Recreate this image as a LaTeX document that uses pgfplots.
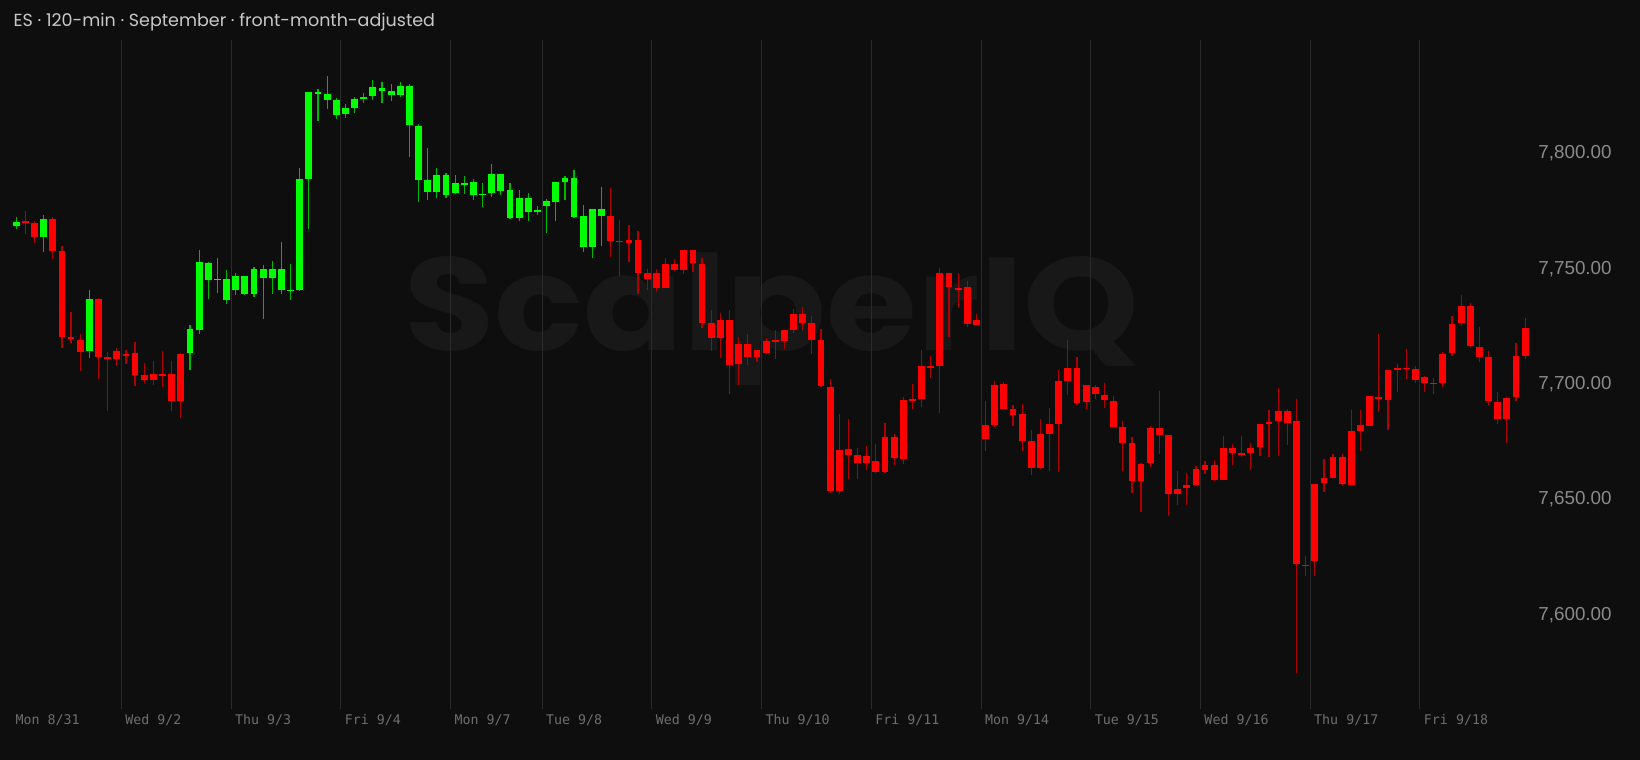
\documentclass[border=0pt]{standalone}
\usepackage{pgfplots}
\pgfplotsset{compat=1.18}
\usepackage{pgfplotstable}
\usepackage{graphicx}
\usepackage{fontspec}
\setmainfont{Liberation Sans}
\newfontfamily\titlefont{Poppins}
\newfontfamily\monofont{DejaVu Sans Mono}
\definecolor{bg}{HTML}{0E0E0E}
\definecolor{gridc}{HTML}{2A2A2A}
\definecolor{titlec}{HTML}{C8C8C8}
\definecolor{ylab}{HTML}{8A8A8A}
\definecolor{xlab}{HTML}{6E6E6E}
\definecolor{wm}{HTML}{181818}
\definecolor{gbody}{HTML}{00FF00}
\definecolor{gwick}{HTML}{00B800}
\definecolor{rbody}{HTML}{FF0000}
\definecolor{rwick}{HTML}{B00000}

% green candles: o = body bottom, c = body top
\pgfplotstableread{
i o h l c
0 7767.7 7771.6 7766.4 7769.7
3 7763.2 7772.6 7756.4 7770.7
8 7713.6 7740.1 7710.8 7736.2
19 7712.6 7724.9 7705.4 7723.0
20 7722.9 7757.4 7721.2 7752.1
21 7744.4 7752.3 7736.3 7751.8
22 7744.6 7753.9 7738.9 7744.9
23 7735.7 7748.7 7733.9 7744.7
24 7739.9 7747.4 7737.9 7746.0
25 7738.2 7746.3 7737.8 7746.0
26 7738.2 7749.9 7737.2 7749.2
27 7745.1 7750.9 7727.5 7749.2
28 7745.1 7752.6 7738.3 7749.2
29 7739.9 7760.8 7738.3 7749.0
30 7739.9 7751.5 7735.7 7740.1
31 7739.9 7792.8 7739.5 7788.3
32 7788.3 7826.0 7766.4 7825.9
33 7825.6 7827.3 7813.3 7825.8
34 7822.5 7832.8 7818.4 7825.0
35 7815.8 7823.3 7814.3 7822.5
36 7816.2 7820.7 7814.6 7819.1
37 7818.9 7823.8 7816.9 7822.8
38 7823.0 7825.6 7821.2 7823.8
39 7824.3 7830.9 7822.5 7827.9
40 7826.2 7830.3 7821.2 7827.6
41 7824.7 7829.3 7822.1 7826.3
42 7824.7 7830.2 7823.7 7828.3
43 7811.7 7829.2 7797.7 7828.3
44 7787.7 7811.9 7778.2 7811.3
45 7782.7 7801.6 7779.2 7787.6
46 7782.4 7793.1 7780.1 7790.0
47 7781.4 7790.6 7780.1 7790.0
48 7782.0 7790.0 7781.7 7786.3
49 7785.9 7789.6 7781.7 7786.3
50 7781.2 7788.2 7779.1 7786.7
51 7781.3 7786.4 7776.2 7781.7
52 7782.0 7794.8 7780.4 7790.2
53 7783.1 7790.2 7781.4 7790.2
54 7771.4 7786.4 7770.8 7783.4
55 7771.4 7783.5 7770.0 7779.8
56 7773.7 7782.0 7769.8 7779.8
57 7773.9 7776.5 7772.7 7774.9
58 7776.5 7779.4 7764.6 7778.5
59 7778.3 7786.7 7770.1 7786.7
60 7787.0 7789.5 7779.1 7788.8
61 7771.9 7792.1 7771.4 7788.8
62 7758.7 7776.8 7756.4 7772.1
63 7758.7 7775.3 7753.9 7775.3
64 7772.3 7784.7 7759.3 7775.3
}\greentab

% red candles: o = body top, c = body bottom
\pgfplotstableread{
i o h l c
1 7769.9 7774.3 7764.5 7769.5
2 7769.3 7770.0 7760.3 7763.2
4 7771.0 7771.7 7753.5 7757.0
5 7756.8 7759.1 7715.0 7719.7
6 7719.7 7730.7 7717.3 7718.7
7 7718.4 7721.0 7705.1 7713.4
9 7736.2 7736.8 7701.4 7711.2
10 7711.2 7713.2 7687.8 7710.3
11 7713.6 7715.0 7707.3 7710.3
12 7712.5 7714.1 7707.9 7711.5
13 7712.6 7717.7 7698.6 7703.1
14 7703.1 7708.3 7699.8 7701.2
15 7703.5 7709.2 7699.1 7701.2
16 7703.5 7713.5 7698.1 7703.1
17 7703.7 7709.2 7687.8 7692.1
18 7712.5 7712.6 7684.8 7692.1
65 7772.3 7784.1 7754.5 7761.5
66 7761.3 7770.4 7746.3 7760.7
67 7761.6 7768.1 7752.1 7760.6
68 7761.6 7765.8 7738.5 7747.6
69 7747.3 7749.3 7740.1 7744.7
70 7747.3 7749.0 7739.2 7741.1
71 7751.5 7754.1 7741.0 7741.1
72 7751.5 7753.5 7748.5 7748.9
73 7757.3 7757.3 7746.9 7748.9
74 7757.3 7757.3 7747.9 7751.6
75 7751.5 7753.9 7723.5 7725.6
76 7725.6 7731.3 7713.6 7719.1
77 7727.1 7730.0 7710.6 7719.1
78 7726.9 7731.3 7695.2 7707.6
79 7716.5 7719.6 7699.1 7707.9
80 7716.5 7720.9 7707.6 7711.0
81 7714.2 7714.2 7708.9 7710.9
82 7718.1 7719.1 7712.2 7712.8
83 7718.3 7722.6 7710.3 7717.7
84 7722.6 7722.6 7714.5 7717.8
85 7729.7 7732.0 7721.3 7722.9
86 7729.7 7732.6 7722.6 7725.6
87 7725.6 7728.8 7712.5 7718.4
88 7718.3 7723.2 7698.0 7698.4
89 7698.2 7701.4 7652.3 7653.1
90 7670.9 7686.4 7651.8 7653.1
91 7671.1 7684.1 7658.0 7668.6
92 7668.6 7671.5 7658.0 7665.3
93 7668.2 7672.6 7662.1 7665.3
94 7665.8 7673.4 7660.9 7661.4
95 7676.2 7682.4 7660.6 7661.4
96 7676.2 7677.5 7664.1 7667.4
97 7692.3 7693.6 7664.8 7667.0
98 7692.8 7699.3 7688.6 7692.3
99 7707.1 7714.1 7689.5 7693.0
100 7707.1 7711.5 7701.8 7706.4
101 7747.3 7749.8 7686.9 7707.1
102 7747.3 7747.3 7719.6 7741.4
103 7740.8 7747.3 7732.1 7740.4
104 7741.2 7743.8 7723.9 7725.5
105 7727.1 7729.7 7725.0 7725.1
106 7681.6 7691.9 7670.5 7675.7
107 7698.9 7700.6 7680.9 7681.6
108 7699.2 7700.2 7688.4 7688.5
109 7688.5 7690.4 7681.3 7686.1
110 7686.2 7690.5 7670.2 7674.6
111 7674.6 7679.4 7660.1 7663.1
112 7677.5 7684.0 7662.4 7663.1
113 7682.0 7688.8 7661.8 7677.7
114 7700.6 7705.4 7661.1 7682.2
115 7706.3 7718.4 7694.6 7700.6
116 7706.3 7710.9 7690.1 7691.3
117 7698.8 7698.8 7688.4 7691.7
118 7698.0 7698.8 7692.9 7694.9
119 7694.8 7699.6 7688.8 7692.4
120 7692.0 7694.0 7680.6 7680.9
121 7680.6 7683.3 7661.8 7673.7
122 7673.7 7676.4 7652.3 7657.3
123 7664.7 7665.3 7643.8 7657.5
124 7680.4 7681.2 7663.2 7665.1
125 7680.4 7696.3 7669.0 7677.1
126 7677.3 7677.3 7642.3 7651.8
127 7653.9 7661.5 7646.9 7651.8
128 7655.6 7660.6 7646.9 7654.4
129 7662.4 7663.8 7655.3 7655.6
130 7664.3 7666.0 7660.4 7662.3
131 7664.3 7666.4 7657.3 7657.9
132 7671.5 7676.8 7657.9 7657.9
133 7671.5 7673.4 7664.3 7669.6
134 7669.4 7676.8 7667.9 7669.0
135 7671.8 7673.8 7662.3 7669.6
136 7682.0 7682.0 7668.3 7672.2
137 7682.9 7688.1 7667.9 7681.9
138 7687.7 7697.8 7668.3 7683.5
139 7687.7 7688.5 7672.9 7682.3
140 7683.3 7693.0 7574.0 7621.2
141 7620.9 7624.7 7616.0 7620.5
142 7656.0 7656.0 7616.3 7622.8
143 7658.8 7666.9 7652.7 7656.3
144 7667.7 7669.0 7658.8 7658.8
145 7667.7 7669.0 7655.2 7656.0
146 7679.0 7688.1 7655.7 7655.7
147 7681.4 7688.1 7670.2 7678.8
148 7694.0 7694.0 7681.2 7681.3
149 7693.7 7721.0 7687.1 7692.7
150 7705.3 7705.3 7679.4 7692.4
151 7706.4 7708.0 7695.9 7705.4
152 7706.3 7714.4 7701.5 7705.8
153 7706.0 7707.2 7699.9 7701.1
154 7702.2 7703.0 7695.7 7699.6
155 7699.9 7701.8 7694.9 7699.4
156 7712.3 7713.1 7697.9 7699.8
157 7725.5 7729.0 7711.6 7712.6
158 7733.3 7738.1 7724.6 7725.6
159 7733.1 7734.3 7715.4 7715.8
160 7715.4 7724.1 7709.0 7710.9
161 7711.0 7713.6 7690.1 7692.0
162 7691.7 7695.9 7682.0 7684.0
163 7693.4 7693.6 7673.9 7684.0
164 7711.3 7717.1 7691.8 7693.6
165 7723.8 7728.1 7710.3 7711.3
}\redtab

\begin{document}
\begin{tikzpicture}
\useasboundingbox (0,-25.5pt) rectangle (820pt,354.5pt);
\fill[bg] (0,-25.5pt) rectangle (820pt,354.5pt);
\node[anchor=base west, inner sep=0pt, text=wm, font=\titlefont\bfseries\fontsize{71}{71}\selectfont] at (202pt,179.25pt) {\scalebox{1.035}[0.93]{ScalperIQ}};
\begin{axis}[
  at={(0,0)}, anchor=south west, scale only axis,
  width=820pt, height=334.5pt,
  xmin=-1.7715, xmax=177.56, ymin=7558.54, ymax=7848.40,
  axis line style={draw=none},
  tick style={draw=none},
  major tick length=0pt,
  xtick={11.5,23.5,35.5,47.5,57.5,69.5,81.5,93.5,105.5,117.5,129.5,141.5,153.5},
  xticklabels={Wed 9/2,Thu 9/3,Fri 9/4,Mon 9/7,Tue 9/8,Wed 9/9,Thu 9/10,Fri 9/11,Mon 9/14,Tue 9/15,Wed 9/16,Thu 9/17,Fri 9/18},
  extra x ticks={-0.5},
  extra x tick labels={Mon 8/31},
  extra x tick style={grid=none},
  xmajorgrids,
  grid style={draw=gridc, line width=0.5pt},
  xticklabel style={font=\monofont\fontsize{6.65}{7}\selectfont, text=xlab, anchor=base west, inner sep=0pt, xshift=1.8pt, yshift=-7.65pt},
  ytick={7600,7650,7700,7750,7800},
  yticklabels={{7,600.00},{7,650.00},{7,700.00},{7,750.00},{7,800.00}},
  yticklabel pos=right,
  yticklabel style={font=\fontsize{9.4}{10}\selectfont, text=ylab, anchor=base east, inner sep=0pt, xshift=-14pt, yshift=-3.5pt},
]
% wicks
\addplot[forget plot, draw=none, mark=none,
  error bars/.cd, y dir=minus, y explicit, error mark=none,
  error bar style={line width=0.6pt, draw=gwick}]
  table[x=i, y=h, y error minus expr=\thisrow{h}-\thisrow{l}] {\greentab};
\addplot[forget plot, draw=none, mark=none,
  error bars/.cd, y dir=minus, y explicit, error mark=none,
  error bar style={line width=0.6pt, draw=rwick}]
  table[x=i, y=h, y error minus expr=\thisrow{h}-\thisrow{l}] {\redtab};
% bodies
\addplot[forget plot, draw=none, mark=none,
  error bars/.cd, y dir=minus, y explicit, error mark=none,
  error bar style={line width=3.4pt, draw=gbody}]
  table[x=i, y=c, y error minus expr={max(\thisrow{c}-\thisrow{o},0.6)}] {\greentab};
\addplot[forget plot, draw=none, mark=none,
  error bars/.cd, y dir=minus, y explicit, error mark=none,
  error bar style={line width=3.4pt, draw=rbody}]
  table[x=i, y=o, y error minus expr={max(\thisrow{o}-\thisrow{c},0.6)}] {\redtab};
\end{axis}
\node[anchor=base west, inner sep=0pt, text=titlec, font=\titlefont\fontsize{8.75}{10}\selectfont] at (6.65pt,341.15pt) {ES · 120-min · September · front-month-adjusted};
\end{tikzpicture}
\end{document}
